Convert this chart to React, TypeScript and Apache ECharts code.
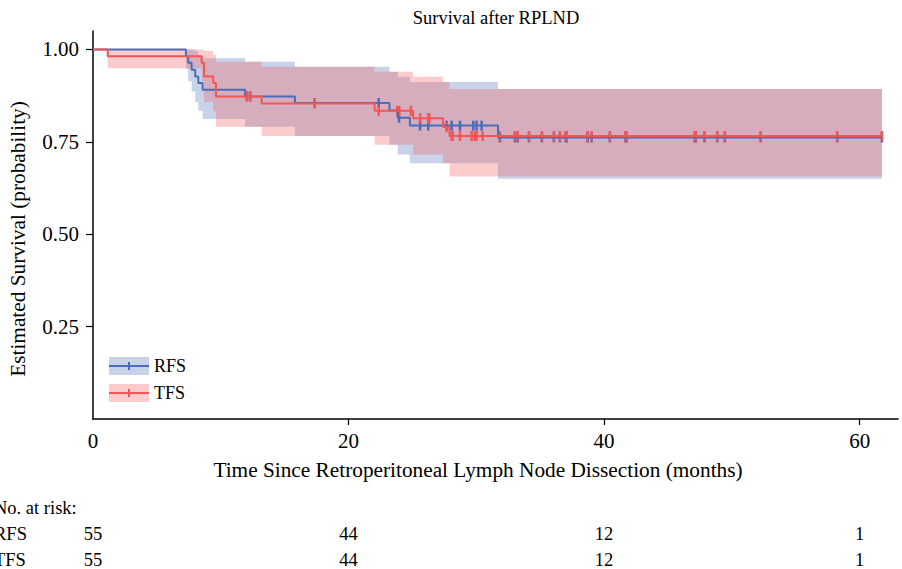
import React, { useEffect, useRef } from "react";
import * as echarts from "echarts";

// ---- Data ----
// RFS (relapse-free survival) Kaplan-Meier steps
const rfsTimes = [0, 7.27, 7.45, 7.72, 8.0, 8.24, 8.58, 11.9, 15.8, 23.2, 23.85, 24.8, 31.7, 61.74];
const rfsSurv = [1.0, 0.982, 0.964, 0.945, 0.927, 0.909, 0.891, 0.873, 0.855, 0.835, 0.815, 0.794, 0.762, 0.762];
const rfsLower = [1.0, 0.947, 0.914, 0.886, 0.858, 0.834, 0.812, 0.791, 0.766, 0.742, 0.716, 0.692, 0.65, 0.65];
const rfsUpper = [1.0, 1.0, 1.0, 1.0, 0.996, 0.985, 0.976, 0.967, 0.953, 0.94, 0.926, 0.912, 0.893, 0.893];
const rfsCensor = [
  12.05, 12.3, 17.35, 22.36, 23.95, 25.6, 26.24, 27.67, 28.07, 28.72, 29.76, 30.02, 30.41,
  31.85, 33.02, 33.23, 34.12, 35.13, 36.07, 36.54, 36.99, 37.07, 38.71, 39.02, 40.45, 41.68,
  41.76, 47.1, 47.18, 47.86, 48.85, 49.45, 52.25, 58.24, 61.74,
];

// TFS (treatment-free survival) Kaplan-Meier steps
const tfsTimes = [0, 1.15, 8.5, 8.69, 9.41, 9.62, 13.2, 22.04, 25.06, 27.4, 27.9, 61.74];
const tfsSurv = [1.0, 0.982, 0.964, 0.927, 0.909, 0.873, 0.854, 0.834, 0.814, 0.79, 0.766, 0.766];
const tfsLower = [1.0, 0.949, 0.914, 0.858, 0.833, 0.791, 0.766, 0.742, 0.716, 0.692, 0.656, 0.656];
const tfsUpper = [1.0, 1.0, 1.0, 0.996, 0.985, 0.967, 0.953, 0.94, 0.926, 0.911, 0.893, 0.893];
const tfsCensor = [
  12.05, 12.3, 17.35, 22.36, 23.81, 23.97, 24.88, 25.6, 26.24, 26.32, 27.67, 28.07, 28.15,
  28.72, 29.63, 29.89, 30.02, 30.49, 31.8, 33.02, 33.23, 34.12, 35.13, 36.07, 36.54, 36.99,
  37.07, 38.71, 39.02, 40.45, 41.68, 41.76, 47.1, 47.18, 47.86, 48.85, 49.45, 52.25, 58.24, 61.74,
];

// Number at risk table
const atRiskTimes = [0, 20, 40, 60];
const rfsAtRisk = [55, 44, 12, 1];
const tfsAtRisk = [55, 44, 12, 1];

const xTicks = [0, 20, 40, 60];
const yTicks = [0.25, 0.5, 0.75, 1.0];

const seriesNames = ["RFS", "TFS"];
const titleText = "Survival after RPLND";
const xLabel = "Time Since Retroperitoneal Lymph Node Dissection (months)";
const yLabel = "Estimated Survival (probability)";
const atRiskTitle = "No. at risk:";

// ---- Styles ----
const FONT = "'Liberation Serif', 'Times New Roman', serif";
const BLUE = "#4A6CBA";
const RED = "#F55555";
const BLUE_BAND = "rgba(72,108,185,0.3)";
const RED_BAND = "rgba(245,85,85,0.3)";

function survAt(times: number[], surv: number[], t: number) {
  let v = surv[0];
  for (let i = 0; i < times.length; i++) {
    if (times[i] <= t) v = surv[i];
  }
  return v;
}

function bandSeries(times: number[], lower: number[], upper: number[], fill: string) {
  return {
    type: "custom",
    silent: true,
    data: [[0, 0]],
    renderItem: (_params: any, api: any) => {
      const pts: number[][] = [];
      for (let i = 0; i < times.length - 1; i++) {
        pts.push(api.coord([times[i], upper[i]]));
        pts.push(api.coord([times[i + 1], upper[i]]));
      }
      for (let i = times.length - 2; i >= 0; i--) {
        pts.push(api.coord([times[i + 1], lower[i]]));
        pts.push(api.coord([times[i], lower[i]]));
      }
      return { type: "polygon", shape: { points: pts }, style: { fill, stroke: null } };
    },
  };
}

function lineSeries(name: string, times: number[], surv: number[], color: string) {
  return {
    name,
    type: "line",
    step: "end",
    showSymbol: false,
    data: times.map((t, i) => [t, surv[i]]),
    lineStyle: { color, width: 2 },
    itemStyle: { color },
    silent: true,
  };
}

function censorSeries(times: number[], surv: number[], cens: number[], color: string) {
  return {
    type: "scatter",
    symbol: "rect",
    symbolSize: [2.5, 10],
    data: cens.map((t) => [t, survAt(times, surv, t)]),
    itemStyle: { color, opacity: 1 },
    silent: true,
  };
}

export default function App() {
  const ref = useRef<HTMLDivElement>(null);
  useEffect(() => {
    const chart = echarts.init(ref.current!, null, { renderer: "svg" });
    const axisText = { color: "#000", fontFamily: FONT, fontSize: 21 };
    chart.setOption({
      animation: false,
      backgroundColor: "#fff",
      grid: { left: 93, right: 4, top: 31, bottom: 150, containLabel: false },
      xAxis: {
        type: "value",
        min: 0,
        max: 63,
        interval: 20,
        axisLine: { show: true, onZero: false, lineStyle: { color: "#000", width: 1.5 } },
        axisTick: { show: true, length: 6, lineStyle: { color: "#000", width: 1.2 }, customValues: [20, 40, 60] },
        axisLabel: { ...axisText, margin: 11, customValues: xTicks },
        splitLine: { show: false },
      },
      yAxis: {
        type: "value",
        min: 0,
        max: 1.05,
        interval: 0.25,
        axisLine: { show: true, onZero: false, lineStyle: { color: "#000", width: 1.5 } },
        axisTick: { show: true, length: 7, lineStyle: { color: "#000", width: 1.2 }, customValues: yTicks },
        axisLabel: { ...axisText, margin: 14, customValues: yTicks, formatter: (v: number) => v.toFixed(2) },
        splitLine: { show: false },
      },
      series: [
        bandSeries(rfsTimes, rfsLower, rfsUpper, BLUE_BAND),
        bandSeries(tfsTimes, tfsLower, tfsUpper, RED_BAND),
        lineSeries(seriesNames[0], rfsTimes, rfsSurv, BLUE),
        censorSeries(rfsTimes, rfsSurv, rfsCensor, BLUE),
        lineSeries(seriesNames[1], tfsTimes, tfsSurv, RED),
        censorSeries(tfsTimes, tfsSurv, tfsCensor, RED),
      ],
    });

    const textStyle = (size: number) => ({ fill: "#000", fontFamily: FONT, fontSize: size });
    const graphics: any[] = [
      {
        type: "text",
        x: 496,
        y: 18,
        style: { ...textStyle(18.5), text: titleText, align: "center", verticalAlign: "middle" },
      },
      {
        type: "text",
        x: 478,
        y: 470,
        style: { ...textStyle(21.3), text: xLabel, align: "center", verticalAlign: "middle" },
      },
      {
        type: "text",
        x: 18,
        y: 239,
        rotation: Math.PI / 2,
        style: { ...textStyle(21.3), text: yLabel, align: "center", verticalAlign: "middle" },
      },
    ];
    // Legend
    const legendItems = [
      { name: seriesNames[0], color: BLUE, band: BLUE_BAND, y: 366 },
      { name: seriesNames[1], color: RED, band: RED_BAND, y: 393 },
    ];
    legendItems.forEach((it) => {
      graphics.push({ type: "rect", shape: { x: 109, y: it.y - 9, width: 40, height: 18 }, style: { fill: it.band } });
      graphics.push({ type: "line", shape: { x1: 109, y1: it.y, x2: 149, y2: it.y }, style: { stroke: it.color, lineWidth: 2 } });
      graphics.push({ type: "rect", shape: { x: 128, y: it.y - 4, width: 2, height: 8 }, style: { fill: it.color } });
      graphics.push({ type: "text", x: 154, y: it.y, style: { ...textStyle(18), text: it.name, verticalAlign: "middle" } });
    });
    // At-risk table
    graphics.push({ type: "text", x: -6, y: 508, style: { ...textStyle(18.5), text: atRiskTitle, verticalAlign: "middle" } });
    const rows = [
      { name: seriesNames[0], vals: rfsAtRisk, y: 534 },
      { name: seriesNames[1], vals: tfsAtRisk, y: 560 },
    ];
    rows.forEach((r) => {
      graphics.push({ type: "text", x: -6, y: r.y, style: { ...textStyle(18.5), text: r.name, verticalAlign: "middle" } });
      atRiskTimes.forEach((t, i) => {
        const px = chart.convertToPixel({ xAxisIndex: 0 }, t) as number;
        graphics.push({
          type: "text",
          x: px,
          y: r.y,
          style: { ...textStyle(18.5), text: String(r.vals[i]), align: "center", verticalAlign: "middle" },
        });
      });
    });
    chart.setOption({ graphic: graphics });
    return () => chart.dispose();
  }, []);
  return <div ref={ref} style={{ position: "fixed", left: 0, top: 0, width: 902, height: 569 }} />;
}
